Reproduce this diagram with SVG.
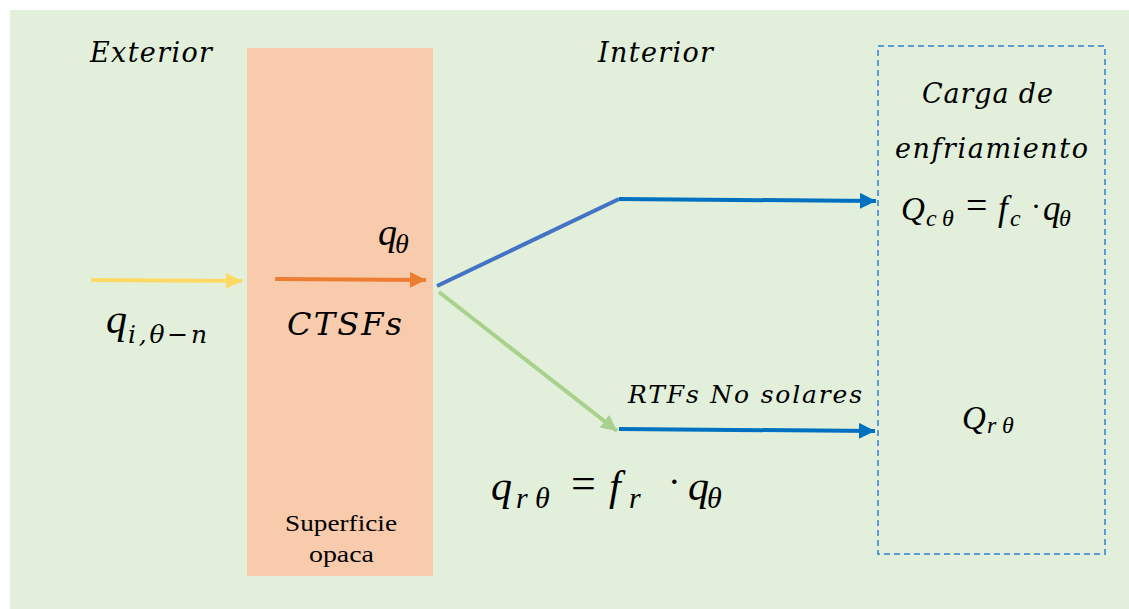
<svg xmlns="http://www.w3.org/2000/svg" width="1129" height="609" viewBox="0 0 1129 609">
<defs>
<style>
.it{font-family:"Liberation Serif","DejaVu Serif",serif;font-style:italic;fill:#000}
.wd{font-family:"DejaVu Serif","Liberation Serif",serif;font-style:italic;fill:#000}
.rm{font-family:"Liberation Serif","DejaVu Serif",serif;fill:#000}
.ln{fill:none;stroke-width:4}
</style>
<marker id="aY" markerWidth="4" markerHeight="4" refX="4" refY="2" orient="auto" markerUnits="strokeWidth"><path d="M0,0 L4,2 L0,4 Z" fill="#FFD966"/></marker>
<marker id="aO" markerWidth="4" markerHeight="4" refX="4" refY="2" orient="auto" markerUnits="strokeWidth"><path d="M0,0 L4,2 L0,4 Z" fill="#ED7D31"/></marker>
<marker id="aB" markerWidth="4" markerHeight="4" refX="4" refY="2" orient="auto" markerUnits="strokeWidth"><path d="M0,0 L4,2 L0,4 Z" fill="#0070C0"/></marker>
<marker id="aG" markerWidth="4" markerHeight="4" refX="4" refY="2" orient="auto" markerUnits="strokeWidth"><path d="M0,0 L4,2 L0,4 Z" fill="#A9D18E"/></marker>
</defs>
<rect x="10" y="10" width="1119" height="599" fill="#E2EFDA"/>
<g id="labels-zones">
<text class="wd" x="90" y="62" font-size="27" textLength="122" lengthAdjust="spacing">Exterior</text>
<text class="wd" x="598" y="62" font-size="27" textLength="115" lengthAdjust="spacing">Interior</text>
</g>
<g id="superficie">
<rect x="247" y="48" width="186" height="528" fill="#F8CBAD"/>
<text class="rm" x="285" y="531" font-size="23" textLength="112" lengthAdjust="spacingAndGlyphs">Superficie</text>
<text class="rm" x="309" y="562" font-size="23" textLength="65" lengthAdjust="spacingAndGlyphs">opaca</text>
</g>
<g id="carga">
<rect x="878" y="46" width="227" height="508" fill="none" stroke="#5B9BD5" stroke-width="2" stroke-dasharray="6,4"/>
<text class="wd" x="922" y="103" font-size="27" textLength="131" lengthAdjust="spacing">Carga de</text>
<text class="wd" x="895" y="158" font-size="27" textLength="193" lengthAdjust="spacing">enfriamiento</text>
<text class="it" x="901" y="220" font-size="33">Q</text>
<text class="it" x="926" y="226" font-size="24">c</text>
<text class="it" x="942" y="226" font-size="24">θ</text>
<text class="rm" x="966" y="218" font-size="38">=</text>
<text class="it" x="998" y="220" font-size="35">f</text>
<text class="it" x="1010" y="226" font-size="24">c</text>
<text class="rm" x="1031" y="216" font-size="30">·</text>
<text class="it" x="1043" y="220" font-size="35">q</text>
<text class="it" x="1059" y="226" font-size="24">θ</text>
<text class="it" x="962" y="429" font-size="33">Q</text>
<text class="it" x="987" y="433" font-size="24">r</text>
<text class="it" x="1002" y="433" font-size="24">θ</text>
</g>
<g id="texts">
<text class="it" x="378" y="245" font-size="38">q</text>
<text class="it" x="395" y="253" font-size="28">θ</text>
<text class="wd" x="287" y="335" font-size="32" textLength="115" lengthAdjust="spacing">CTSFs</text>
<text class="it" x="106" y="333" font-size="42">q</text>
<text class="wd" x="128" y="343" font-size="25" textLength="79" lengthAdjust="spacing">i,θ−n</text>
<text class="wd" x="628" y="403" font-size="25" textLength="234" lengthAdjust="spacing">RTFs No solares</text>
<text class="it" x="491" y="500" font-size="42">q</text>
<text class="it" x="516" y="508" font-size="30">r</text>
<text class="it" x="535" y="508" font-size="30">θ</text>
<text class="rm" x="571" y="498" font-size="44">=</text>
<text class="it" x="609" y="500" font-size="42">f</text>
<text class="it" x="629" y="508" font-size="30">r</text>
<text class="rm" x="668" y="494" font-size="38">·</text>
<text class="it" x="688" y="500" font-size="42">q</text>
<text class="it" x="707" y="508" font-size="30">θ</text>
</g>
<g id="connectors">
<line class="ln" x1="91" y1="280" x2="242" y2="281" stroke="#FFD966" marker-end="url(#aY)"/>
<line class="ln" x1="275" y1="279" x2="426" y2="280" stroke="#ED7D31" marker-end="url(#aO)"/>
<polyline class="ln" points="437,286 619,199" stroke="#4472C4"/>
<line class="ln" x1="619" y1="199" x2="876" y2="201" stroke="#0070C0" marker-end="url(#aB)"/>
<line class="ln" x1="439" y1="292" x2="617" y2="431" stroke="#A9D18E" marker-end="url(#aG)"/>
<line class="ln" x1="619" y1="429" x2="875" y2="431" stroke="#0070C0" marker-end="url(#aB)"/>
</g>
</svg>
